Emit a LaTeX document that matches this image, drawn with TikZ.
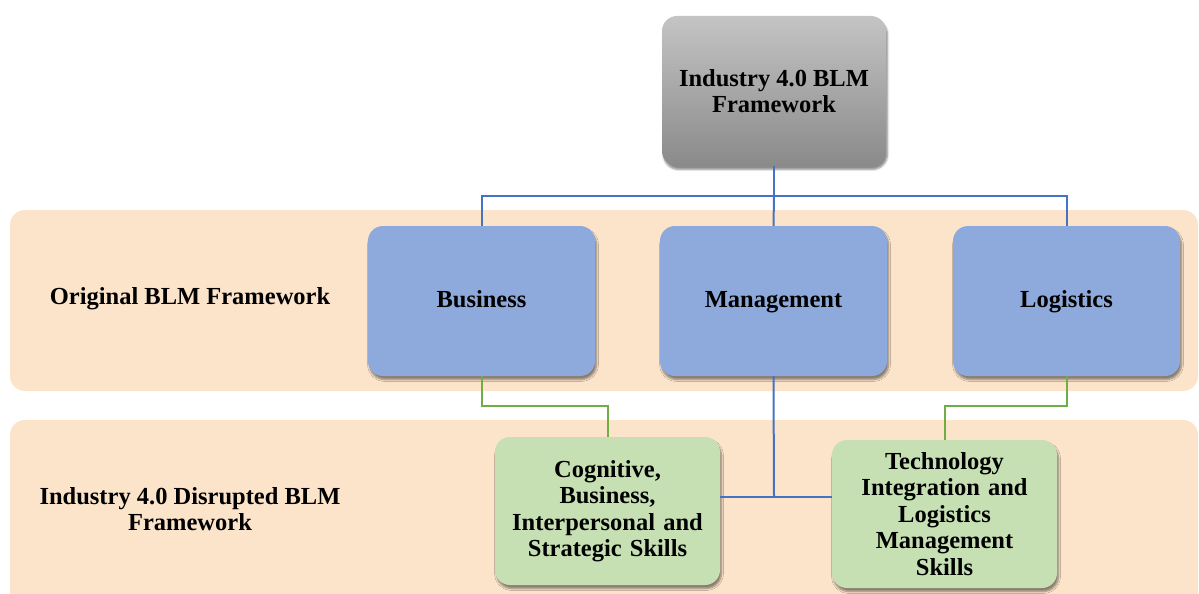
\documentclass[tikz,border=0pt]{standalone}
\usepackage{fontspec}
\setmainfont{Liberation Serif}
\usetikzlibrary{shadows.blur}
\definecolor{bandc}{HTML}{FCE4CA}
\definecolor{bluebox}{HTML}{8EA9DB}
\definecolor{greenbox}{HTML}{C6E0B4}
\definecolor{grayTop}{HTML}{C4C4C4}
\definecolor{grayBot}{HTML}{8A8A8A}
\definecolor{blueline}{HTML}{4472C4}
\definecolor{greenline}{HTML}{70AD47}
\tikzset{
  box/.style={rounded corners=15pt, align=center, font=\fontsize{24.5}{26.5}\selectfont\bfseries,
    blur shadow={shadow xshift=1.5pt, shadow yshift=-3.5pt, shadow blur steps=6, shadow opacity=45}},
  topbox/.style={box, top color=grayTop, bottom color=grayBot, minimum width=224pt, minimum height=150pt},
  bluebx/.style={box, fill=bluebox, minimum width=227pt, minimum height=150pt, text height=17pt, text depth=5pt},
  greenbx/.style={box, fill=greenbox, minimum width=225pt, minimum height=148pt, text width=215pt},
  band/.style={fill=bandc, rounded corners=15pt},
  lbl/.style={align=center, font=\fontsize{24.5}{26.5}\selectfont\bfseries},
  bconn/.style={draw=blueline, line width=2pt},
  gconn/.style={draw=greenline, line width=2pt}
}
\begin{document}
\begin{tikzpicture}[x=1pt, y=-1pt]
\useasboundingbox (0,0) rectangle (1199,594);
\clip (0,0) rectangle (1199,594);
% bands
\path[band] (10,210) rectangle (1198,391);
\path[band] (10,420) rectangle (1198,620);
% coordinates
\coordinate (hub) at (774,196);
\coordinate (mj) at (774,497);
% connectors (drawn under the boxes)
\coordinate (topS) at (774,166);
\coordinate (busN) at (481.5,226);
\coordinate (manN) at (773.5,226);
\coordinate (logN) at (1066.5,226);
% nodes
\node[topbox] (top) at (774,91) {Industry 4.0 BLM\\Framework};
\node[bluebx] (bus) at (481.5,301) {Business};
\node[bluebx] (man) at (773.5,301) {Management};
\node[bluebx] (log) at (1066.5,301) {Logistics};
\node[greenbx] (cog) at (607.5,511) {Cognitive,\\Business,\\Interpersonal and\\Strategic Skills};
\node[greenbx] (tech) at (944.5,514) {Technology\\Integration and\\Logistics\\Management\\Skills};
\node[lbl] (l1) at (190,299) {Original BLM Framework};
\node[lbl] (l2) at (190,509) {Industry 4.0 Disrupted BLM\\Framework};
% connectors
\draw[bconn] (top.south) -- (hub);
\draw[bconn] (bus.north) |- (hub) -| (log.north);
\draw[bconn] (hub) -- (man.north);
\draw[gconn] (bus.south) -- ++(0,30) -| (cog.north);
\draw[gconn] (log.south) -- ++(0,30) -| (tech.north);
\draw[bconn] (man.south) -- (mj);
\draw[bconn] (cog.east |- mj) -- (tech.west |- mj);
\end{tikzpicture}
\end{document}
